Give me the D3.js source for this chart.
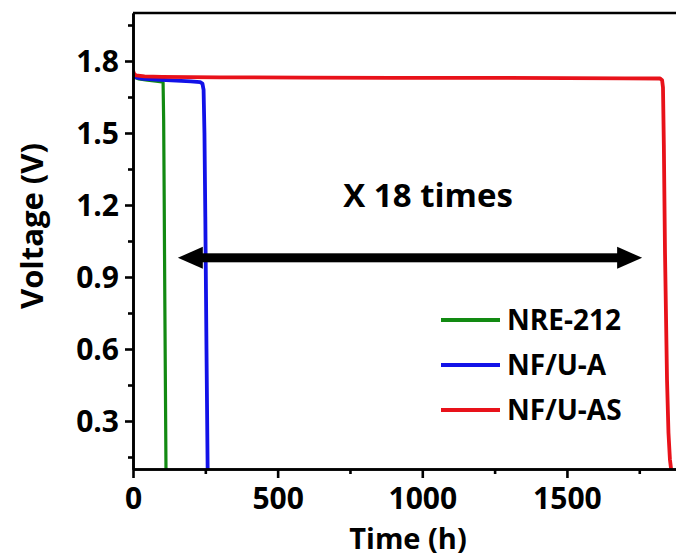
<!DOCTYPE html>
<html>
<head>
<meta charset="utf-8">
<script src="https://cdn.jsdelivr.net/npm/d3@7"></script>
<style>
  html, body { margin: 0; padding: 0; background: #fff; }
  svg { display: block; }
  text { font-family: "Open Sans", "DejaVu Sans", sans-serif; font-weight: 700; fill: #000; }
</style>
</head>
<body>
<svg id="chart" width="676" height="559"></svg>
<script>
// ---- data ----
const seriesNames = ["NRE-212", "NF/U-A", "NF/U-AS"];
const seriesColors = ["#128a12", "#1212e8", "#e8121a"];

const nreTime = [0, 5, 20, 50, 80, 100, 104, 106, 108, 110, 112, 114];
const nreVolt = [1.74, 1.733, 1.725, 1.72, 1.716, 1.713, 1.71, 1.55, 1.2, 0.8, 0.45, 0.1];

const nfaTime = [0, 3, 10, 30, 80, 150, 200, 232, 240, 244, 247, 250, 254, 258];
const nfaVolt = [1.748, 1.738, 1.732, 1.727, 1.723, 1.718, 1.715, 1.712, 1.706, 1.68, 1.5, 1.15, 0.6, 0.1];

const nfasTime = [0, 3, 10, 40, 100, 300, 600, 900, 1200, 1500, 1700, 1822, 1829, 1832, 1835, 1839, 1846, 1851, 1856, 1860];
const nfasVolt = [1.762, 1.748, 1.74, 1.736, 1.734, 1.732, 1.731, 1.73, 1.73, 1.729, 1.728, 1.727, 1.72, 1.69, 1.45, 1.0, 0.47, 0.25, 0.14, 0.1];

const xTicks = [0, 500, 1000, 1500];
const xMinorTicks = [250, 750, 1250, 1750];
const yTicks = [0.3, 0.6, 0.9, 1.2, 1.5, 1.8];
const yMinorTicks = [0.15, 0.45, 0.75, 1.05, 1.35, 1.65, 1.95];

const xDomain = [0, 1877];
const yDomain = [0.1, 2.0];

const arrowTimes = [155, 1760];
const arrowVolt = 0.98;
const annotation = "X 18 times";
const annotationTime = 1020;
const annotationVolt = 1.19;

const xTitle = "Time (h)";
const yTitle = "Voltage (V)";

// ---- drawing ----
const svg = d3.select("#chart");
const mLeft = 133, mRight = 676, mTop = 13, mBottom = 469;

const x = d3.scaleLinear().domain(xDomain).range([mLeft, mRight]);
const y = d3.scaleLinear().domain(yDomain).range([mBottom, mTop]);

const series = [
  { name: seriesNames[0], color: seriesColors[0], t: nreTime, v: nreVolt, w: 3.2 },
  { name: seriesNames[1], color: seriesColors[1], t: nfaTime, v: nfaVolt, w: 3.8 },
  { name: seriesNames[2], color: seriesColors[2], t: nfasTime, v: nfasVolt, w: 3.8 }
];

const line = d3.line().x(d => x(d[0])).y(d => y(d[1])).curve(d3.curveLinear);

svg.append("defs").append("clipPath").attr("id", "clip")
  .append("rect").attr("x", mLeft).attr("y", mTop).attr("width", mRight - mLeft).attr("height", mBottom - mTop);

const plot = svg.append("g").attr("clip-path", "url(#clip)");
series.forEach(s => {
  plot.append("path")
    .datum(s.t.map((t, i) => [t, s.v[i]]))
    .attr("fill", "none")
    .attr("stroke", s.color)
    .attr("stroke-width", s.w)
    .attr("stroke-linejoin", "round")
    .attr("d", line);
});

// axes
const axisW = 2.6;
const gx = svg.append("g").attr("transform", `translate(0,${mBottom})`)
  .call(d3.axisBottom(x).tickValues(xTicks).tickSize(9).tickSizeOuter(0).tickPadding(5).tickFormat(d3.format("d")));
const gxm = svg.append("g").attr("transform", `translate(0,${mBottom})`)
  .call(d3.axisBottom(x).tickValues(xMinorTicks).tickSize(5).tickSizeOuter(0).tickFormat(""));
const gy = svg.append("g").attr("transform", `translate(${mLeft},0)`)
  .call(d3.axisLeft(y).tickValues(yTicks).tickSize(8).tickSizeOuter(0).tickPadding(6).tickFormat(d3.format(".1f")));
const gym = svg.append("g").attr("transform", `translate(${mLeft},0)`)
  .call(d3.axisLeft(y).tickValues(yMinorTicks).tickSize(5).tickSizeOuter(0).tickFormat(""));

[gx, gxm, gy, gym].forEach(g => {
  g.selectAll("path.domain").attr("stroke", "#000").attr("stroke-width", axisW);
  g.selectAll(".tick line").attr("stroke", "#000").attr("stroke-width", axisW);
});
gx.selectAll(".tick text").style("font-size", "30px").attr("dy", "0.86em");
gy.selectAll(".tick text").style("font-size", "30px").attr("dy", "0.36em");

// top border
svg.append("line")
  .attr("x1", x(xDomain[0])).attr("x2", x(xDomain[1]))
  .attr("y1", y(yDomain[1])).attr("y2", y(yDomain[1]))
  .attr("stroke", "#000").attr("stroke-width", axisW);

// axis titles
svg.append("text").attr("x", 408).attr("y", 549)
  .attr("text-anchor", "middle").style("font-size", "29px").text(xTitle);
svg.append("text").attr("transform", `translate(43,226) rotate(-90)`)
  .attr("text-anchor", "middle").style("font-size", "31px").text(yTitle);

// double-headed arrow
const ay = y(arrowVolt);
const ax1 = x(arrowTimes[0]), ax2 = x(arrowTimes[1]);
const headL = 25, headH = 11, shaft = 4.5;
svg.append("rect").attr("x", ax1 + headL - 2).attr("y", ay - shaft)
  .attr("width", ax2 - ax1 - 2 * headL + 4).attr("height", 2 * shaft).attr("fill", "#000");
svg.append("path").attr("d", `M${ax1},${ay} L${ax1 + headL},${ay - headH} L${ax1 + headL},${ay + headH} Z`).attr("fill", "#000");
svg.append("path").attr("d", `M${ax2},${ay} L${ax2 - headL},${ay - headH} L${ax2 - headL},${ay + headH} Z`).attr("fill", "#000");

svg.append("text").attr("x", x(annotationTime)).attr("y", y(annotationVolt))
  .attr("text-anchor", "middle").style("font-size", "33px").text(annotation);

// legend
const legendY = [320, 365, 410];
series.forEach((s, i) => {
  svg.append("line").attr("x1", 441).attr("x2", 500).attr("y1", legendY[i]).attr("y2", legendY[i])
    .attr("stroke", s.color).attr("stroke-width", 3.8);
  svg.append("text").attr("x", 507).attr("y", legendY[i] + 10)
    .style("font-size", "28px").text(s.name);
});
</script>
</body>
</html>
